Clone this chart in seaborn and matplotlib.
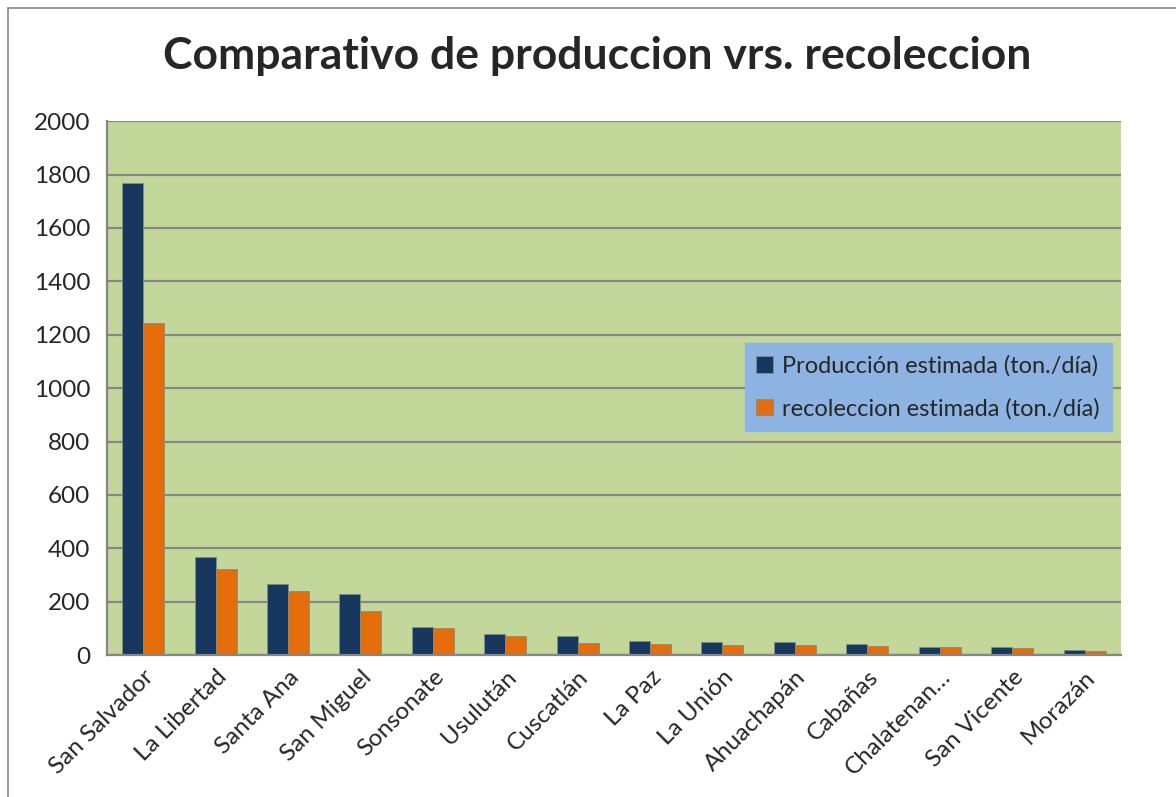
import pandas as pd
import seaborn as sns
import matplotlib.pyplot as plt
from matplotlib.patches import Rectangle

departamentos = ['San Salvador', 'La Libertad', 'Santa Ana', 'San Miguel',
                 'Sonsonate', 'Usulután', 'Cuscatlán', 'La Paz', 'La Unión',
                 'Ahuachapán', 'Cabañas', 'Chalatenan…', 'San Vicente', 'Morazán']
produccion = [1770, 366, 268, 230, 107, 80, 70, 54, 50, 49, 40, 30, 29, 19]
recoleccion = [1244, 322, 240, 165, 102, 71, 47, 41, 39, 39, 35, 30, 28, 16]

serie_prod = 'Producción estimada (ton./día)'
serie_rec = 'recoleccion estimada (ton./día)'

df = pd.DataFrame({'depto': departamentos, serie_prod: produccion,
                   serie_rec: recoleccion})
df = df.melt(id_vars='depto', var_name='serie', value_name='ton')

sns.set_style('white')
plt.rcParams['font.family'] = ['Lato', 'DejaVu Sans']

fig = plt.figure(figsize=(11.76, 7.97), dpi=100)
ax = fig.add_axes([0.091, 0.178, 0.862, 0.670])
ax.set_facecolor('#C4D79B')

sns.barplot(data=df, x='depto', y='ton', hue='serie', ax=ax,
            palette=['#17375E', '#E46C0A'], width=0.58,
            edgecolor='#7f8f7f', linewidth=0.6, saturation=1)

ax.set_ylim(0, 2000)
ax.set_yticks(range(0, 2001, 200))
ax.yaxis.grid(True, color='#868686', linewidth=1.6)
ax.set_axisbelow(True)
ax.set_xlabel('')
ax.set_ylabel('')
ax.tick_params(axis='y', length=0, labelsize=17.5, pad=12)
ax.tick_params(axis='x', length=0, labelsize=17.5, pad=8)
plt.setp(ax.get_xticklabels(), rotation=45, ha='right', rotation_mode='anchor')
for s in ['top', 'right']:
    ax.spines[s].set_visible(False)
for s in ['left', 'bottom']:
    ax.spines[s].set_color('#868686')
    ax.spines[s].set_linewidth(1.6)

leg = ax.legend(loc='upper left', bbox_to_anchor=(0.629, 0.584),
                fontsize=17, frameon=True, fancybox=False,
                handlelength=0.7, handleheight=0.7, handletextpad=0.4,
                labelspacing=0.9, borderpad=0.5, borderaxespad=0)
leg.get_frame().set_facecolor('#8DB3E2')
leg.get_frame().set_edgecolor('#8DB3E2')
leg.get_frame().set_alpha(1)

fig.suptitle('Comparativo de produccion vrs. recoleccion', x=0.508, y=0.955,
             fontsize=32, fontweight='bold')

fig.patches.append(Rectangle((8 / 1176, -0.01), 1.0, 1.0 - 8 / 797 + 0.01,
                             transform=fig.transFigure, fill=False,
                             edgecolor='#868686', linewidth=1.2))

fig.savefig('out.png', dpi=100)
